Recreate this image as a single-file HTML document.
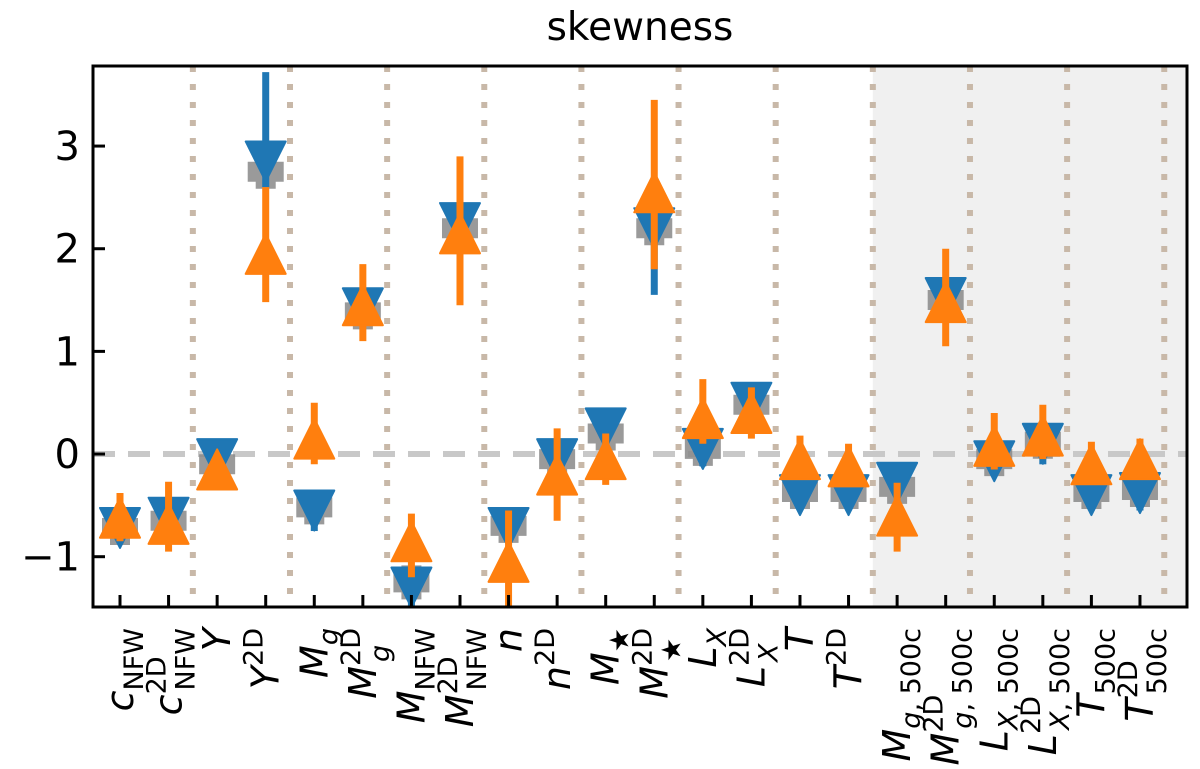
<!DOCTYPE html>
<html><head><meta charset="utf-8"><style>body{margin:0;background:#fff}svg{display:block;font-family:"DejaVu Sans","Liberation Sans",sans-serif}</style></head>
<body>
<svg id="chart" width="1200" height="769" viewBox="0 0 1200 769" xmlns="http://www.w3.org/2000/svg">
<text x="640" y="40" font-size="39" text-anchor="middle">skewness</text>
<g id="g"></g>
</svg>
<script>
const categories=["cNFW","cNFW2D","Y","Y2D","Mg","Mg2D","MNFW","MNFW2D","n","n2D","Mstar","Mstar2D","LX","LX2D","T","T2D","Mg500","Mg500_2D","LX500","LX500_2D","T500","T500_2D"];
const grayVals=[-0.72,-0.65,-0.1,2.75,-0.52,1.38,-1.25,2.2,-0.7,-0.05,0.2,2.2,0.05,0.48,-0.37,-0.37,-0.32,1.5,-0.05,0.12,-0.37,-0.35];
const blueVals=[-0.72,-0.62,-0.05,2.85,-0.55,1.42,-1.3,2.25,-0.72,-0.05,0.25,2.2,0.05,0.5,-0.4,-0.4,-0.28,1.52,-0.07,0.1,-0.4,-0.38];
const blueLo=[-0.85,-0.72,-0.1,2.6,-0.75,1.3,-1.49,2.1,-0.85,-0.12,0.1,1.55,-0.12,0.4,-0.55,-0.55,-0.4,1.4,-0.2,-0.1,-0.55,-0.55];
const blueHi=[-0.6,-0.55,0.02,3.72,-0.45,1.5,-1.1,2.35,-0.6,0.02,0.32,2.4,0.15,0.7,-0.3,-0.3,-0.2,1.6,0.02,0.2,-0.3,-0.28];
const orangeVals=[-0.62,-0.68,-0.15,1.95,0.15,1.45,-0.85,2.15,-1.05,-0.2,-0.05,2.55,0.35,0.4,-0.05,-0.12,-0.6,1.48,0.08,0.18,-0.1,-0.05];
const orangeLo=[-0.85,-0.95,-0.3,1.48,-0.1,1.1,-1.2,1.45,-1.49,-0.65,-0.3,1.8,0.1,0.15,-0.15,-0.3,-0.95,1.05,-0.15,-0.05,-0.2,-0.2];
const orangeHi=[-0.38,-0.27,0.0,2.6,0.5,1.85,-0.58,2.9,-0.55,0.25,0.2,3.45,0.73,0.65,0.18,0.1,-0.28,2.0,0.4,0.48,0.12,0.15];
const yTicks=[-1,0,1,2,3];
const yTickLabels=["\u22121","0","1","2","3"];
const labels=[["c","NFW",""],["c","NFW","2D"],["Y","",""],["Y","","2D"],["M","g",""],["M","g","2D"],["M","NFW",""],["M","NFW","2D"],["n","",""],["n","","2D"],["M","\u2605",""],["M","\u2605","2D"],["L","X",""],["L","X","2D"],["T","",""],["T","","2D"],["M","g, 500c",""],["M","g, 500c","2D"],["L","X, 500c",""],["L","X, 500c","2D"],["T","500c",""],["T","500c","2D"]];
const L=93,R=1187,T=66,B=607,ymin=-1.49,ymax=3.78;
const X=i=>120+i*48.57;
const Yp=v=>B-(v-ymin)/(ymax-ymin)*(B-T);
const g=document.getElementById('g');const NS="http://www.w3.org/2000/svg";
function mk(t,a,p){const e=document.createElementNS(NS,t);for(const k in a)e.setAttribute(k,a[k]);(p||g).appendChild(e);return e;}
let e;
e=mk('rect',{x:X(15.5),y:T,width:R-X(15.5),height:B-T,fill:'#f0f0f0'});


for(let k=0;k<=10;k++){e=mk('line',{x1:X(2*k+1.5),x2:X(2*k+1.5),y1:T,y2:B,stroke:'#c8b8a8',"stroke-width":6,"stroke-dasharray":"6 12"});

}
e=mk('line',{x1:L,x2:R,y1:Yp(0),y2:Yp(0),stroke:'#c8c8c8',"stroke-width":6,"stroke-dasharray":"22 13"});


const h=20;
categories.forEach((c,i)=>{const x=X(i);
 const gy=Yp(grayVals[i]);
 e=mk('path',{d:`M${x-18} ${gy-10}h36v20h-36z M${x-10} ${gy-17}h20v34h-20z`,fill:'#888',"fill-opacity":0.85});
 
 
 e=mk('line',{x1:x,x2:x,y1:Yp(blueLo[i]),y2:Yp(blueHi[i]),stroke:'#1f77b4',"stroke-width":7});
 
 
 const by=Yp(blueVals[i]);
 e=mk('path',{d:`M${x-h} ${by-h}L${x+h} ${by-h}L${x} ${by+h}Z`,fill:'#1f77b4',stroke:'#1f77b4',"stroke-width":2,"stroke-linejoin":"round"});
 
 
 e=mk('line',{x1:x,x2:x,y1:Yp(orangeLo[i]),y2:Yp(orangeHi[i]),stroke:'#ff7f0e',"stroke-width":7});
 
 
 const oy=Yp(orangeVals[i]);
 e=mk('path',{d:`M${x-h} ${oy+h}L${x+h} ${oy+h}L${x} ${oy-h}Z`,fill:'#ff7f0e',stroke:'#ff7f0e',"stroke-width":2,"stroke-linejoin":"round"});
 
 
 e=mk('line',{x1:x,x2:x,y1:B,y2:B-12,stroke:'#000',"stroke-width":3});
 
 
 const lb=labels[i];
 const t=mk('text',{transform:`translate(${x+13},628) rotate(-90)`,"text-anchor":"end","font-size":38});
 
 
 const a=mk('tspan',{"font-style":"italic"},t);a.textContent=lb[0];
 if(lb[2]){const s=mk('tspan',{"font-size":27,dy:-16},t);s.textContent=lb[2];}
 if(lb[1]){
   const first=lb[1][0], rest=lb[1].slice(1);
   const dx=lb[2]?-(lb[2].length*17):0;
   const s=mk('tspan',{"font-size":27,dy:lb[2]?29:10,dx:dx,"font-style":/[gX]/.test(first)?"italic":"normal"},t);s.textContent=first;
   if(rest){const s2=mk('tspan',{"font-size":27},t);s2.textContent=rest;}
 }
});
yTicks.forEach((v,i)=>{const y=Yp(v);
 e=mk('line',{x1:L,x2:L+12,y1:y,y2:y,stroke:'#000',"stroke-width":3});
 
 
 e=mk('text',{x:80,y:y+14,"text-anchor":"end","font-size":40});e.textContent=yTickLabels[i];
 
 
});
e=mk('rect',{x:L,y:T,width:R-L,height:B-T,fill:'none',stroke:'#000',"stroke-width":3});


</script>
</body></html>
